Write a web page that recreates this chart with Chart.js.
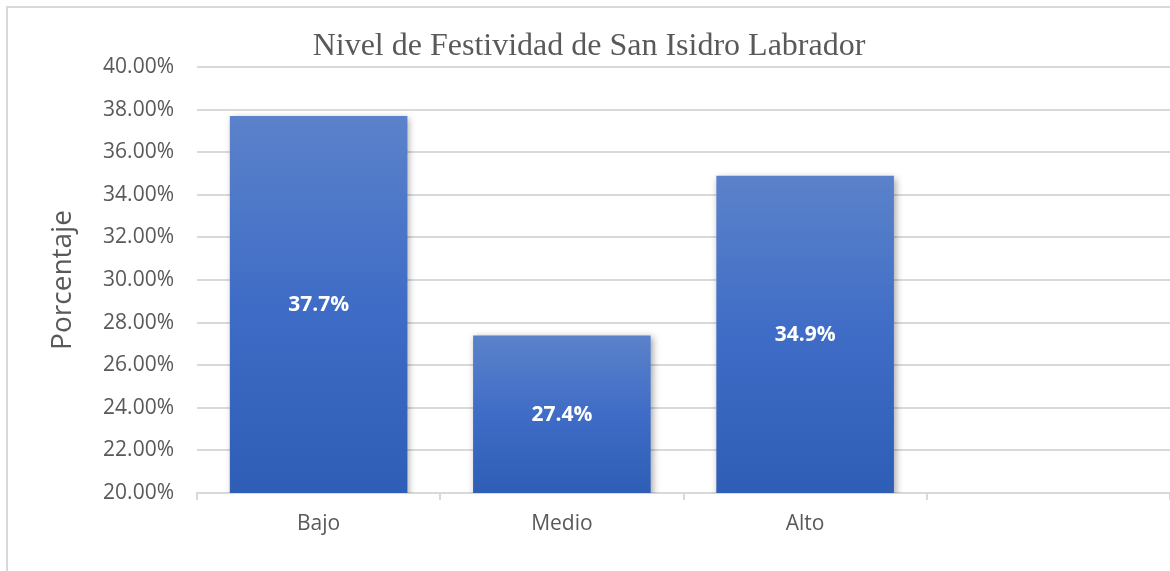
<!DOCTYPE html>
<html>
<head>
<meta charset="utf-8">
<script src="https://cdn.jsdelivr.net/npm/chart.js@4"></script>
<style>
  body { margin: 0; background: #fff; }
  #wrap { position: relative; width: 1170px; height: 571px; overflow: hidden; }
  #marco { position: absolute; left: 6px; top: 6px; width: 1200px; height: 600px; border: 2px solid #d9d9d9; }
  canvas { position: absolute; left: 0; top: 0; }
</style>
</head>
<body>
<div id="wrap">
  <div id="marco"></div>
  <canvas id="graf" width="1170" height="571"></canvas>
</div>
<script>
// donnees du graphique
const categorias = ["Bajo", "Medio", "Alto", ""];
const porcentajes = [37.7, 27.4, 34.9, null];
const titulo = "Nivel de Festividad de San Isidro Labrador";
const tituloEje = "Porcentaje";
const ejeMin = 20;
const ejeMax = 40;
const paso = 2;

const gris = "#595959";

// degrade de chaque barre (haut clair -> bas fonce)
function couleurBarre(context) {
    const chart = context.chart;
    const { ctx, chartArea, scales } = chart;
    if (!chartArea) return "#4472c4";
    const v = context.raw;
    if (v == null) return "#4472c4";
    const yTop = scales.y.getPixelForValue(v);
    const yBas = scales.y.getPixelForValue(ejeMin);
    const g = ctx.createLinearGradient(0, yTop, 0, yBas);
    g.addColorStop(0, "#5b82ca");
    g.addColorStop(0.5, "#3f6cc6");
    g.addColorStop(1, "#2e5eb6");
    return g;
}

// ombre sous les barres
const ombre = {
    id: "ombre",
    beforeDatasetDraw(chart) {
        const c = chart.ctx;
        c.save();
        c.shadowColor = "rgba(0,0,0,0.35)";
        c.shadowBlur = 7;
        c.shadowOffsetX = 2;
        c.shadowOffsetY = 2;
    },
    afterDatasetDraw(chart) {
        chart.ctx.restore();
    }
};

// etiquettes au centre des barres
const etiquettes = {
    id: "etiquettes",
    afterDatasetsDraw(chart) {
        const c = chart.ctx;
        const meta = chart.getDatasetMeta(0);
        const bas = chart.scales.y.getPixelForValue(ejeMin);
        c.save();
        c.fillStyle = "#ffffff";
        c.font = "bold 21px 'Open Sans'";
        c.textAlign = "center";
        c.textBaseline = "middle";
        meta.data.forEach((bar, i) => {
            const v = porcentajes[i];
            if (v == null) return;
            c.fillText(v.toFixed(1) + "%", bar.x, (bar.y + bas) / 2 + 1);
        });
        c.restore();
    }
};

new Chart(document.getElementById("graf"), {
    type: "bar",
    data: {
        labels: categorias,
        datasets: [{
            data: porcentajes,
            backgroundColor: couleurBarre,
            borderWidth: 0,
            barPercentage: 0.73,
            categoryPercentage: 1
        }]
    },
    options: {
        responsive: false,
        animation: false,
        layout: { padding: { left: 8, right: 0, top: 0, bottom: 0 } },
        plugins: {
            legend: { display: false },
            tooltip: { enabled: false },
            title: {
                display: true,
                text: titulo,
                color: gris,
                font: { family: "'Liberation Serif'", size: 32, weight: "normal" },
                padding: { top: 27, bottom: 1.6 }
            }
        },
        scales: {
            x: {
                grid: {
                    display: true,
                    drawOnChartArea: false,
                    offset: true,
                    color: "#d9d9d9",
                    lineWidth: 2,
                    tickLength: 7
                },
                border: { color: "#d9d9d9", width: 2 },
                ticks: {
                    color: gris,
                    font: { family: "'Open Sans'", size: 21 },
                    padding: 11
                },
                afterFit(scale) { scale.height = 78; }
            },
            y: {
                min: ejeMin,
                max: ejeMax,
                ticks: {
                    stepSize: paso,
                    color: gris,
                    font: { family: "'Open Sans'", size: 21 },
                    padding: 23,
                    callback: v => v.toFixed(2) + "%"
                },
                grid: { color: "#d9d9d9", lineWidth: 2, drawTicks: false },
                border: { display: false },
                title: {
                    display: true,
                    text: tituloEje,
                    color: gris,
                    font: { family: "'Open Sans'", size: 28 },
                    padding: { top: 38, bottom: 0 }
                },
                afterFit(scale) { scale.width = 189; }
            }
        }
    },
    plugins: [ombre, etiquettes]
});
</script>
</body>
</html>
